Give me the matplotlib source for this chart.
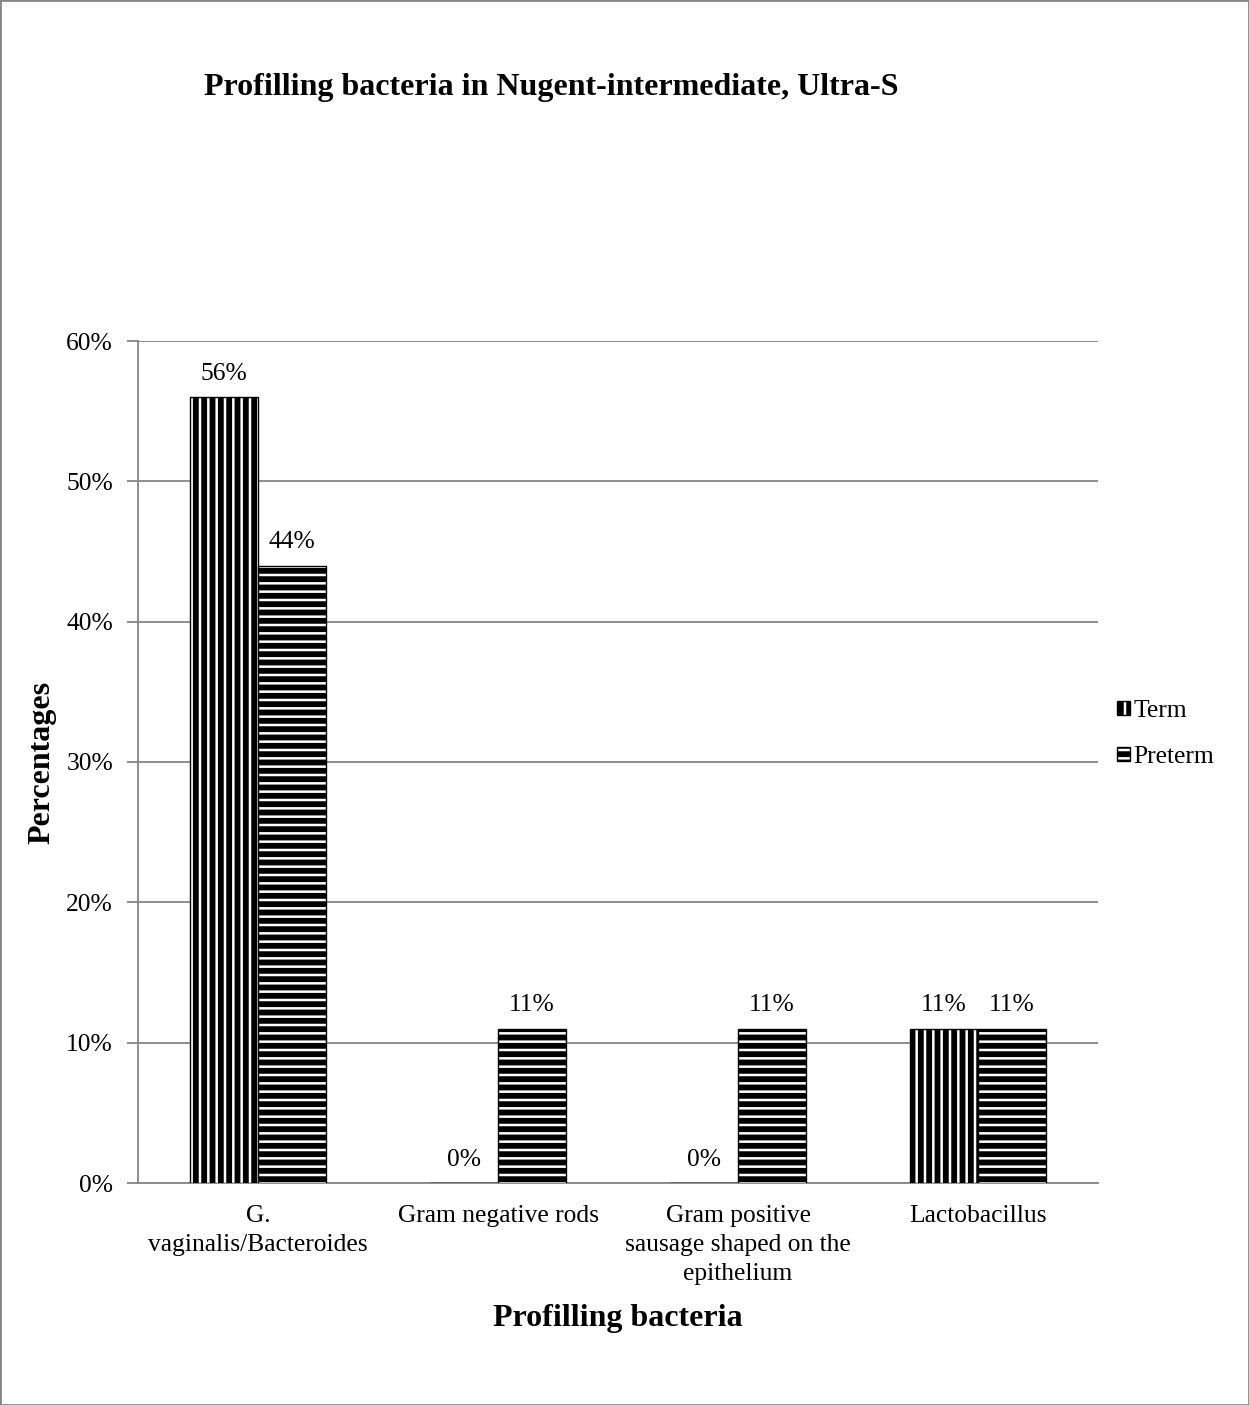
import matplotlib
matplotlib.use("Agg")
from matplotlib import pyplot as plt
from matplotlib.patches import Rectangle
import numpy as np

categories = ["G.\nvaginalis/Bacteroides", "Gram negative rods",
              "Gram positive\nsausage shaped on the\nepithelium", "Lactobacillus"]
term = [56, 0, 0, 11]
preterm = [44, 11, 11, 11]
yticks = [0, 10, 20, 30, 40, 50, 60]

plt.rcParams['font.family'] = ['Liberation Serif', 'DejaVu Serif']
plt.rcParams['hatch.linewidth'] = 4.2
plt.rcParams['hatch.color'] = 'black'

fs = 18.4
grey = '#868686'
fig = plt.figure(figsize=(12.49, 14.05), dpi=100)
ax = fig.add_axes([138/1249, 1-1183/1405, 960/1249, 842/1405])

x = np.arange(len(categories))
w = 0.283
b1 = ax.bar(x - w/2, term, w, color='white', edgecolor='black', hatch='||', linewidth=1, label='Term', zorder=3)
b2 = ax.bar(x + w/2, preterm, w, color='white', edgecolor='black', hatch='--', linewidth=1, label='Preterm', zorder=3)

for bars, vals in ((b1, term), (b2, preterm)):
    for rect, v in zip(bars, vals):
        ax.annotate(f"{v}%", (rect.get_x() + rect.get_width()/2, v),
                    xytext=(0, 9), textcoords='offset points',
                    ha='center', va='bottom', fontsize=fs)

ax.set_xlim(-0.5, len(categories) - 0.5)
ax.set_ylim(0, 60)
ax.set_yticks(yticks)
ax.set_yticklabels([f"{t}%" for t in yticks], fontsize=fs)
ax.set_xticks(x)
ax.set_xticklabels(categories, fontsize=fs, linespacing=1.4)
ax.tick_params(axis='x', length=0, pad=16)
ax.tick_params(axis='y', length=8, color=grey, width=1.3, pad=10)
ax.grid(axis='y', color=grey, linewidth=1.3, zorder=0)
ax.set_axisbelow(True)
for s in ('top', 'right'):
    ax.spines[s].set_visible(False)
for s in ('left', 'bottom'):
    ax.spines[s].set_color(grey)
    ax.spines[s].set_linewidth(1.3)

ax.set_xlabel("Profilling bacteria", fontsize=23, fontweight='bold', labelpad=14)
ax.set_ylabel("Percentages", fontsize=23, fontweight='bold', labelpad=7)
fig.text(551/1249, 1-88/1405, "Profilling bacteria in Nugent-intermediate, Ultra-S",
         ha='center', va='center', fontsize=23, fontweight='bold')

fig.legend(handles=[b1, b2], loc='center left', bbox_to_anchor=(1117/1249, 1-734/1405),
           frameon=False, fontsize=fs, handlelength=0.5, handleheight=0.5,
           handletextpad=0.15, labelspacing=0.95, borderpad=0, borderaxespad=0)

fig.add_artist(Rectangle((0, 0), 1, 1, transform=fig.transFigure, fill=False,
                         edgecolor=grey, linewidth=2))

fig.savefig("out.png", dpi=100)
